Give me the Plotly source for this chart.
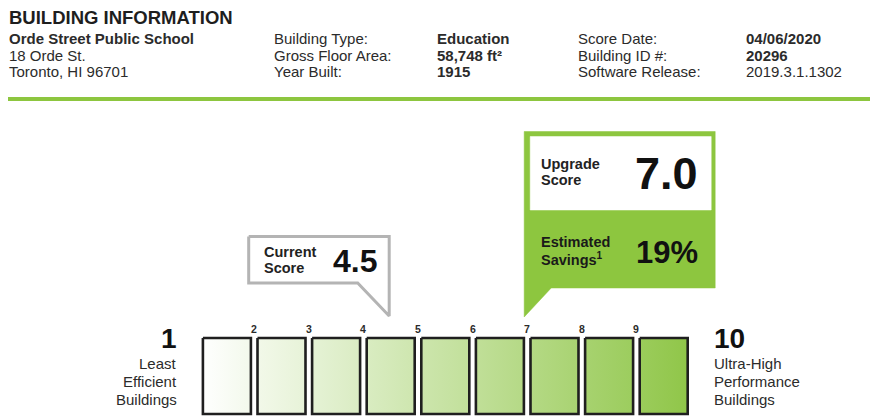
import plotly.graph_objects as go

# ---------------- data ----------------
title_text = "BUILDING INFORMATION"
building_lines = ["Orde Street Public School", "18 Orde St.", "Toronto, HI 96701"]
info_labels_a = ["Building Type:", "Gross Floor Area:", "Year Built:"]
info_values_a = ["Education", "58,748 ft²", "1915"]
info_labels_b = ["Score Date:", "Building ID #:", "Software Release:"]
info_values_b = ["04/06/2020", "20296", "2019.3.1.1302"]
info_values_b_bold = [True, True, False]

box_scores = [1, 2, 3, 4, 5, 6, 7, 8, 9]
tick_scores = [2, 3, 4, 5, 6, 7, 8, 9]
scale_min, scale_max = 1, 10
low_label = ["Least", "Efficient", "Buildings"]
high_label = ["Ultra-High", "Performance", "Buildings"]

current_score = 4.5
upgrade_score = 7.0
estimated_savings = 19

# ---------------- layout constants ----------------
W, H = 870, 416
PX = 54.6            # pixels per score unit
S1_PX = 199.6        # pixel column of score 1
X0 = 1 - S1_PX / PX
X1 = X0 + W / PX
FONT = "Liberation Sans, Arial, sans-serif"
GREEN = "#8dc63f"
DARK = "#1f1f1f"
TXT = "#2b2b2b"


def u(px):
    return px / PX


def mix(s):
    t = (s - scale_min) / (scale_max - scale_min)
    c0 = (255, 255, 255)
    c1 = (143, 198, 72)
    r, g, b = [round(a + (bb - a) * t) for a, bb in zip(c0, c1)]
    return f"rgb({r},{g},{b})"


fig = go.Figure()

# score boxes
inset = u(3.3)
for k in box_scores:
    l, r = k + inset, k + 1 - inset
    fig.add_trace(go.Scatter(
        x=[l, r, r, l, l], y=[338, 338, 414, 414, 338],
        mode="lines", fill="toself",
        fillgradient=dict(type="horizontal",
                          colorscale=[[0, mix(l)], [1, mix(r)]]),
        line=dict(color=DARK, width=2.6), hoverinfo="skip"))

# current score callout
t = current_score
left = t - u(142)
right = t - u(1.5)
fig.add_trace(go.Scatter(
    x=[left, right, right, t - u(33), left, left],
    y=[236.5, 236.5, 316, 283, 283, 236.5],
    mode="lines", fill="toself", fillcolor="white",
    line=dict(color="#b4b4b4", width=3), hoverinfo="skip"))

# upgrade score callout
t2 = upgrade_score
gl = t2 - u(3)
fig.add_trace(go.Scatter(
    x=[gl, t2 + u(188), t2 + u(188), t2 + u(24), gl, gl],
    y=[131.5, 131.5, 288, 288, 317, 131.5],
    mode="lines", fill="toself", fillcolor=GREEN,
    line=dict(color=GREEN, width=0.5), hoverinfo="skip"))
fig.add_trace(go.Scatter(
    x=[t2 + u(3), t2 + u(184), t2 + u(184), t2 + u(3), t2 + u(3)],
    y=[136.5, 136.5, 210, 210, 136.5],
    mode="lines", fill="toself", fillcolor="white",
    line=dict(color="white", width=0.5), hoverinfo="skip"))

ann = []


def text(x, y, s, size, bold=False, anchor="left", color=TXT, xref="x"):
    ann.append(dict(x=x, y=y, xref=xref, yref="y", text=f"<b>{s}</b>" if bold else s,
                    showarrow=False, xanchor=anchor, yanchor="middle",
                    font=dict(family=FONT, size=size, color=color), borderpad=0))


def ptext(px, y, s, size, bold=False, anchor="left", color=TXT):
    text(px / W, y, s, size, bold, anchor, color, xref="paper")


# header
ptext(8, 17, title_text, 18.5, bold=True, color="#1e1e1e")
rows_y = [38, 55, 71]
for i, y in enumerate(rows_y):
    ptext(8, y, building_lines[i], 15, bold=(i == 0))
    ptext(273, y, info_labels_a[i], 15)
    ptext(436, y, info_values_a[i], 15, bold=True)
    ptext(577, y, info_labels_b[i], 15)
    ptext(745, y, info_values_b[i], 15, bold=info_values_b_bold[i])

# tick labels
for k in tick_scores:
    text(k, 329, str(k), 10.5, bold=True, anchor="center")

# ends of scale
text(scale_min - u(22), 338, str(scale_min), 28, bold=True, anchor="right", color="#111")
for i, s in enumerate(low_label):
    text(scale_min - u(22), 363 + 18 * i, s, 15, anchor="right")
text(scale_max + u(22), 338, str(scale_max), 28, bold=True, anchor="left", color="#111")
for i, s in enumerate(high_label):
    text(scale_max + u(22), 363 + 18 * i, s, 15, anchor="left")

# current callout text
text(t - u(128), 252, "Current", 14.5, bold=True, color="#222")
text(t - u(128), 268, "Score", 14.5, bold=True, color="#222")
text(t - u(36), 261, f"{current_score:.1f}", 32, bold=True, anchor="center", color="#111")

# upgrade callout text
text(t2 + u(13), 164, "Upgrade", 14.5, bold=True, color="#222")
text(t2 + u(13), 180, "Score", 14.5, bold=True, color="#222")
text(t2 + u(139), 173, f"{upgrade_score:.1f}", 45, bold=True, anchor="center", color="#111")
text(t2 + u(13), 242, "Estimated", 14.5, bold=True, color="#1a1a1a")
text(t2 + u(13), 259, "Savings<sup>1</sup>", 14.5, bold=True, color="#1a1a1a")
text(t2 + u(140), 252, f"{estimated_savings}%", 31, bold=True, anchor="center", color="#111")

fig.update_layout(
    width=W, height=H, margin=dict(l=0, r=0, t=0, b=0),
    paper_bgcolor="white", plot_bgcolor="white", showlegend=False,
    xaxis=dict(range=[X0, X1], visible=False, fixedrange=True),
    yaxis=dict(range=[H, 0], visible=False, fixedrange=True),
    annotations=ann,
    shapes=[dict(type="line", xref="paper", yref="y", x0=8 / W, x1=1, y0=99, y1=99,
                 line=dict(color=GREEN, width=4))],
)

fig.write_html("out.html", config={"displayModeBar": False},
               post_script="document.body.style.margin='0';document.body.style.overflow='hidden';")
